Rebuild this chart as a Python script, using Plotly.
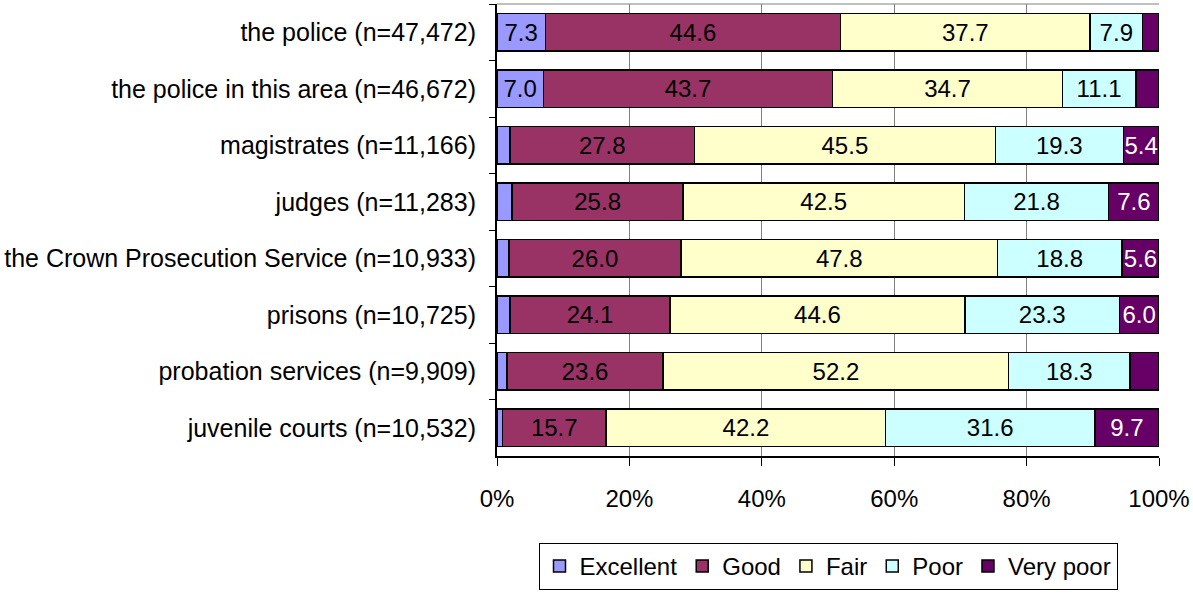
import plotly.graph_objects as go

categories = [
    "the police (n=47,472)",
    "the police in this area (n=46,672)",
    "magistrates (n=11,166)",
    "judges (n=11,283)",
    "the Crown Prosecution Service (n=10,933)",
    "prisons (n=10,725)",
    "probation services (n=9,909)",
    "juvenile courts (n=10,532)",
]
excellent = [7.3, 7.0, 2.0, 2.3, 1.8, 2.0, 1.5, 0.8]
good = [44.6, 43.7, 27.8, 25.8, 26.0, 24.1, 23.6, 15.7]
fair = [37.7, 34.7, 45.5, 42.5, 47.8, 44.6, 52.2, 42.2]
poor = [7.9, 11.1, 19.3, 21.8, 18.8, 23.3, 18.3, 31.6]
very_poor = [2.5, 3.5, 5.4, 7.6, 5.6, 6.0, 4.4, 9.7]

series = [
    ("Excellent", excellent, "#9999FF", "black"),
    ("Good", good, "#993366", "black"),
    ("Fair", fair, "#FFFFCC", "black"),
    ("Poor", poor, "#CCFFFF", "black"),
    ("Very poor", very_poor, "#660066", "white"),
]

FONT = "Liberation Sans, Arial, sans-serif"
FS = 24

fig = go.Figure()
for name, vals, color, tcolor in series:
    texts = [f"{v:.1f}" if v >= 5 else "" for v in vals]
    fig.add_trace(go.Bar(
        name=name, y=categories, x=vals, orientation="h",
        marker=dict(color=color, line=dict(color="black", width=1.5)),
        text=texts, textposition="inside", insidetextanchor="middle",
        textangle=0, constraintext="none",
        textfont=dict(family=FONT, size=FS, color=tcolor),
        hoverinfo="x+name",
    ))

fig.update_layout(
    barmode="stack",
    bargap=0.34,
    width=1193, height=594,
    margin=dict(l=497, r=34, t=4, b=128),
    plot_bgcolor="white", paper_bgcolor="white",
    font=dict(family=FONT, size=FS, color="black"),
    xaxis=dict(
        range=[0, 100], tickvals=[0, 20, 40, 60, 80, 100],
        ticktext=["0%", "20%", "40%", "60%", "80%", "100%"],
        showgrid=True, gridcolor="#808080", gridwidth=1,
        showline=True, linecolor="black", linewidth=2,
        ticks="outside", ticklen=8, tickcolor="black",
        zeroline=False, tickfont=dict(size=FS), automargin=False,
        ticklabelstandoff=12,
    ),
    yaxis=dict(
        autorange="reversed", type="category",
        showline=True, linecolor="black", linewidth=2,
        ticks="outside", ticklen=6, tickcolor="black", tickson="boundaries",
        showgrid=False, tickfont=dict(size=25), automargin=False,
        ticklabelstandoff=14,
    ),
    legend=dict(
        orientation="h", x=0.5, xanchor="center", y=-0.192, yanchor="top",
        bordercolor="black", borderwidth=1, font=dict(size=24),
        traceorder="normal", itemwidth=30, tracegroupgap=0,
    ),
    shapes=[dict(type="line", xref="paper", yref="paper", x0=0, x1=1, y0=1, y1=1,
                 line=dict(color="#808080", width=1))],
)

fig.write_html("out.html", post_script="document.body.style.margin='0';",
               config={"displayModeBar": False})
